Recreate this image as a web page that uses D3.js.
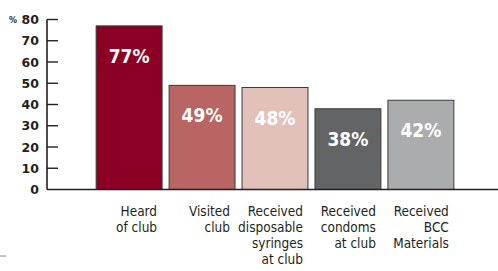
<!DOCTYPE html>
<html>
<head>
<meta charset="utf-8">
<script src="https://cdn.jsdelivr.net/npm/d3@7"></script>
<style>
  body { margin: 0; background: #fff; }
  svg { display: block; }
  .cond { font-family: "DejaVu Sans", sans-serif; font-stretch: condensed; }
</style>
</head>
<body>
<svg id="chart" width="498" height="271"></svg>
<script>
const categories = ['Heard of club', 'Visited club', 'Received disposable syringes at club', 'Received condoms at club', 'Received BCC Materials'];
const labelLines = [['Heard', 'of club'], ['Visited', 'club'], ['Received', 'disposable', 'syringes', 'at club'], ['Received', 'condoms', 'at club'], ['Received', 'BCC', 'Materials']];
const values = [77, 49, 48, 38, 42];
const colors = ['#8c0025', '#b86563', '#e3c1bb', '#636466', '#abacae'];
const yTicks = [0, 10, 20, 30, 40, 50, 60, 70, 80];

const svg = d3.select('#chart');

const x = d3.scaleBand().domain(categories).range([92.5, 457.5]).paddingInner(0.096).paddingOuter(0.05);
const y = d3.scaleLinear().domain([0, 80]).range([189.5, 19.5]);

// y axis
const axisX = 47;
svg.append('line')
    .attr('x1', axisX).attr('x2', axisX)
    .attr('y1', y(80)).attr('y2', y(0))
    .attr('stroke', '#231f20').attr('stroke-width', 1.6);

const ticks = svg.append('g');
ticks.selectAll('line').data(yTicks.slice(1)).enter().append('line')
    .attr('x1', axisX).attr('x2', 58)
    .attr('y1', d => y(d)).attr('y2', d => y(d))
    .attr('stroke', '#231f20').attr('stroke-width', 1.4);

ticks.selectAll('text').data(yTicks).enter().append('text')
    .attr('x', 39)
    .attr('y', d => y(d) + 4.5)
    .attr('text-anchor', 'end')
    .attr('font-family', '"DejaVu Sans", sans-serif')
    .attr('font-weight', 'bold')
    .attr('font-size', '12.5px')
    .attr('fill', '#231f20')
    .text(d => d);

svg.append('text')
    .attr('x', 17).attr('y', y(80) + 3.5)
    .attr('text-anchor', 'end')
    .attr('font-family', '"DejaVu Sans", sans-serif')
    .attr('font-weight', 'bold')
    .attr('font-size', '8px')
    .attr('fill', '#231f20')
    .text('%');

// bars
const bars = svg.append('g');
bars.selectAll('rect').data(values).enter().append('rect')
    .attr('x', (d, i) => x(categories[i]))
    .attr('y', d => y(d))
    .attr('width', x.bandwidth())
    .attr('height', d => y(0) - y(d))
    .attr('fill', (d, i) => colors[i])
    .attr('stroke', '#3a3a3a')
    .attr('stroke-width', 1);

bars.selectAll('text').data(values).enter().append('text')
    .attr('class', 'cond')
    .attr('x', (d, i) => x(categories[i]) + x.bandwidth() / 2)
    .attr('y', d => y(d) + 37)
    .attr('text-anchor', 'middle')
    .attr('font-weight', 'bold')
    .attr('font-size', '19px')
    .attr('fill', '#fff')
    .text(d => d + '%');

// baseline
svg.append('line')
    .attr('x1', axisX).attr('x2', 498)
    .attr('y1', y(0)).attr('y2', y(0))
    .attr('stroke', '#231f20').attr('stroke-width', 1.6);

// category labels
const labels = svg.append('g');
labelLines.forEach((lines, i) => {
    const t = labels.append('text')
        .attr('class', 'cond')
        .attr('text-anchor', 'end')
        .attr('font-size', '13.5px')
        .attr('fill', '#231f20');
    lines.forEach((ln, j) => {
        t.append('tspan')
            .attr('x', x(categories[i]) + x.bandwidth() - 5)
            .attr('y', 216 + j * 16)
            .text(ln);
    });
});

// small mark bottom-left
svg.append('line')
    .attr('x1', 0).attr('x2', 6)
    .attr('y1', 256).attr('y2', 256)
    .attr('stroke', '#888').attr('stroke-width', 1);
</script>
</body>
</html>
